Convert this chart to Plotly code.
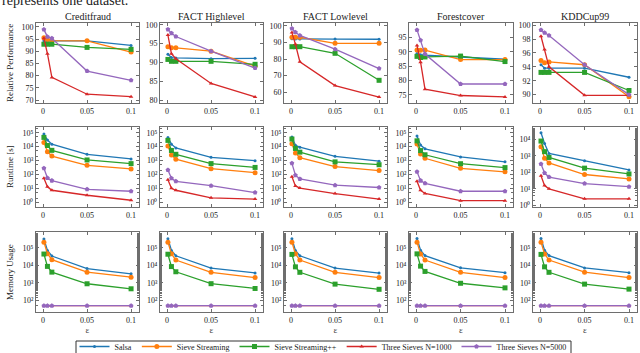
import plotly.graph_objects as go
from plotly.subplots import make_subplots

# ---- data ----
eps = [0.001, 0.005, 0.01, 0.05, 0.1]
datasets = ["Creditfraud", "FACT Highlevel", "FACT Lowlevel", "Forestcover", "KDDCup99"]
algos = ["Salsa", "Sieve Streaming", "Sieve Streaming++", "Three Sieves N=1000", "Three Sieves N=5000"]
colors = ["#1f77b4", "#ff7f0e", "#2ca02c", "#d62728", "#9467bd"]
symbols = ["circle", "circle", "square", "triangle-up", "pentagon"]
msizes = [3, 5, 5, 4, 5]

# relative performance, one row per algorithm (same order as algos)
perf_creditfraud = [[94.3, 94.3, 94.3, 94.3, 92.4],
                    [95.6, 94.8, 94.4, 94.3, 89.7],
                    [92.9, 92.9, 92.9, 91.6, 90.8],
                    [95.3, 89.0, 79.3, 72.4, 71.4],
                    [98.9, 96.0, 95.3, 81.9, 78.1]]
perf_fact_high = [[92.2, 91.3, 91.2, 91.0, 91.1],
                  [94.2, 93.9, 93.9, 93.0, 89.0],
                  [90.8, 90.3, 90.3, 90.3, 89.5],
                  [97.3, 92.3, 91.0, 84.4, 80.8],
                  [98.8, 97.8, 96.9, 93.0, 88.5]]
perf_fact_low = [[92.3, 92.2, 92.2, 92.1, 92.0],
                 [93.2, 93.2, 93.2, 89.5, 89.5],
                 [87.5, 87.5, 87.5, 83.5, 67.2],
                 [96.0, 88.9, 78.4, 64.0, 57.1],
                 [98.5, 96.2, 94.3, 86.0, 74.3]]
perf_forest = [[89.4, 89.0, 88.8, 88.2, 87.4],
               [90.6, 90.5, 90.6, 87.3, 87.3],
               [88.4, 88.0, 88.2, 88.5, 86.6],
               [92.2, 86.4, 77.0, 74.8, 74.3],
               [97.6, 94.0, 89.2, 78.8, 78.8]]
perf_kdd = [[94.3, 93.8, 93.8, 93.8, 92.5],
            [94.9, 94.6, 94.7, 94.3, 89.7],
            [93.2, 93.2, 93.2, 93.2, 90.6],
            [98.4, 96.5, 94.0, 89.9, 89.9],
            [99.3, 98.9, 98.5, 94.3, 90.0]]

# runtime [s]
rt_creditfraud = [[8e4, 3e4, 1.5e4, 2.8e3, 1.3e3],
                  [2e4, 4.3e3, 2.1e3, 450, 250],
                  [4.6e4, 1.2e4, 5.4e3, 1.1e3, 600],
                  [53, 13, 7.3, 3.2, 1.4],
                  [275, 56, 36, 8.5, 6.2]]
rt_fact_high = [[4.5e4, 1.5e4, 8e3, 1.7e3, 970],
                [1.1e4, 2.5e3, 1.25e3, 260, 133],
                [2.8e4, 5.3e3, 2.8e3, 600, 320],
                [41, 10, 7.3, 2.1, 1.7],
                [210, 53, 32, 15.6, 5]]
rt_fact_low = [[5e4, 1.26e4, 9.1e3, 2e3, 900],
               [1.6e4, 3.5e3, 1.6e3, 370, 190],
               [3.5e4, 7.4e3, 4e3, 800, 500],
               [69, 15, 10.5, 4.2, 1.7],
               [630, 89, 48, 17, 11.5]]
rt_forest = [[5.9e4, 1.3e4, 6.9e3, 1.8e3, 810],
             [1.55e4, 2.95e3, 1.45e3, 275, 155],
             [2.6e4, 5.2e3, 2.6e3, 590, 310],
             [32, 7.2, 4.3, 1.3, 1.3],
             [155, 36, 23, 6.2, 6.2]]
rt_kdd = [[2.5e4, 5.6e3, 1.4e3, 500, 140],
          [3.6e3, 710, 370, 74, 40],
          [7.9e3, 1.8e3, 800, 180, 80],
          [63, 16, 10, 2.5, 2.5],
          [320, 91, 52, 21, 13.5]]

# memory usage
mem_creditfraud = [[3.2e5, 7e4, 3.4e4, 6.5e3, 3.3e3],
                   [2.1e5, 4.6e4, 2.1e4, 4.1e3, 2.1e3],
                   [4.4e4, 8.7e3, 4.1e3, 890, 460],
                   [50, 50, 50, 50, 50],
                   [50, 50, 50, 50, 50]]
mem_fact_high = [[3.3e5, 7e4, 3.5e4, 7e3, 3.7e3],
                 [2.1e5, 4.5e4, 2.0e4, 4.0e3, 2.0e3],
                 [4.3e4, 8.5e3, 4.3e3, 900, 480],
                 [50, 50, 50, 50, 50],
                 [50, 50, 50, 50, 50]]
mem_fact_low = [[3.3e5, 7e4, 3.5e4, 7e3, 3.6e3],
                [2.1e5, 4.5e4, 2.0e4, 4.0e3, 2.0e3],
                [4.2e4, 8.2e3, 4.0e3, 850, 430],
                [50, 50, 50, 50, 50],
                [50, 50, 50, 50, 50]]
mem_forest = [[3.4e5, 7.2e4, 3.6e4, 7.2e3, 3.8e3],
              [2.1e5, 4.4e4, 2.0e4, 4.0e3, 2.0e3],
              [4.5e4, 9e3, 4.5e3, 950, 520],
              [50, 50, 50, 50, 50],
              [50, 50, 50, 50, 50]]
mem_kdd = [[3.4e5, 7.2e4, 3.6e4, 7.1e3, 3.8e3],
           [2.1e5, 4.4e4, 2.0e4, 4.1e3, 2.0e3],
           [4.2e4, 8.2e3, 4.0e3, 850, 440],
           [50, 50, 50, 50, 50],
           [50, 50, 50, 50, 50]]

perf = [perf_creditfraud, perf_fact_high, perf_fact_low, perf_forest, perf_kdd]
runtime = [rt_creditfraud, rt_fact_high, rt_fact_low, rt_forest, rt_kdd]
memory = [mem_creditfraud, mem_fact_high, mem_fact_low, mem_forest, mem_kdd]

perf_ranges = [[68.8, 101.6], [79.2, 100.5], [53.5, 101.8], [72.2, 100], [88.8, 100.3]]
perf_ticks = [[70, 75, 80, 85, 90, 95, 100], [80, 85, 90, 95, 100], [60, 70, 80, 90, 100],
              [75, 80, 85, 90, 95], [90, 92, 94, 96, 98, 100]]
row_labels = ["Relative Performance", "Runtime [s]", "Memory Usage"]

# ---- layout geometry (pixels of the 640x353 page) ----
W, H = 640, 353
col_px = [(36, 139), (160, 263), (284, 387), (409, 513), (533, 637)]
row_px = [(23, 103), (127, 207), (232, 312)]

FONT = "Liberation Serif"
AX = "#6e6e6e"

fig = make_subplots(rows=3, cols=5)

for c in range(5):
    for r, block in enumerate([perf, runtime, memory]):
        for a in range(5):
            fig.add_trace(go.Scatter(
                x=eps, y=block[c][a], mode="lines+markers",
                name=algos[a], legendgroup=algos[a],
                showlegend=(r == 0 and c == 0),
                line=dict(color=colors[a], width=1.3),
                marker=dict(symbol=symbols[a], size=msizes[a], color=colors[a]),
            ), row=r + 1, col=c + 1)

sup = {0: "⁰", 1: "¹", 2: "²", 3: "³", 4: "⁴", 5: "⁵"}
for r in range(3):
    for c in range(5):
        n = r * 5 + c + 1
        xa = "xaxis" if n == 1 else f"xaxis{n}"
        ya = "yaxis" if n == 1 else f"yaxis{n}"
        x0, x1 = col_px[c]
        y0, y1 = row_px[r]
        common = dict(showline=True, linecolor=AX, linewidth=1, mirror="ticks",
                      ticks="inside", ticklen=3, tickcolor=AX, showgrid=False,
                      zeroline=False, automargin=False,
                      tickfont=dict(family=FONT, size=8, color="#222"))
        fig.layout[xa].update(domain=[x0 / W, x1 / W], range=[-0.008, 0.109],
                              tickvals=[0, 0.05, 0.1], ticktext=["0", "0.05", "0.1"], **common)
        fig.layout[ya].update(domain=[1 - y1 / H, 1 - y0 / H], **common)
        if r == 0:
            fig.layout[ya].update(range=perf_ranges[c], tickvals=perf_ticks[c])
        elif r == 1:
            exps = [0, 1, 2, 3, 4] if c == 4 else [0, 1, 2, 3, 4, 5]
            rng = [-0.1, 4.75] if c == 4 else [-0.34, 5.41]
            fig.layout[ya].update(type="log", range=rng,
                                  tickvals=[10 ** e for e in exps],
                                  ticktext=["10" + sup[e] for e in exps],
                                  minor=dict(ticks="inside", ticklen=2, tickcolor=AX))
        else:
            exps = [2, 3, 4, 5]
            fig.layout[ya].update(type="log", range=[1.34, 5.9],
                                  tickvals=[10 ** e for e in exps],
                                  ticktext=["10" + sup[e] for e in exps],
                                  minor=dict(ticks="inside", ticklen=2, tickcolor=AX))
            fig.layout[xa].update(title=dict(text="ε", font=dict(family=FONT, size=9, color="#444"),
                                             standoff=2))

annotations = []
for c, name in enumerate(datasets):
    x0, x1 = col_px[c]
    annotations.append(dict(text=name, x=(x0 + x1) / 2 / W, y=1 - 17 / H, xref="paper", yref="paper",
                            xanchor="center", yanchor="middle", showarrow=False,
                            font=dict(family=FONT, size=10, color="#222")))
for r, lab in enumerate(row_labels):
    y0, y1 = row_px[r]
    annotations.append(dict(text=lab, x=10 / W, y=1 - (y0 + y1) / 2 / H, xref="paper", yref="paper",
                            xanchor="center", yanchor="middle", textangle=-90, showarrow=False,
                            font=dict(family=FONT, size=9, color="#222")))
annotations.append(dict(text="represents one dataset.", x=0, y=1 - 0 / H, xref="paper", yref="paper",
                        xanchor="left", yanchor="middle", showarrow=False,
                        font=dict(family=FONT, size=14, color="#222")))

# legend frame, drawn separately so its top edge can sit where the reference has it
legend_box = dict(type="rect", xref="paper", yref="paper", x0=76 / W, x1=571 / W,
                  y0=-0.02, y1=1 - 341 / H, line=dict(color="#333", width=1))

fig.update_layout(
    width=W, height=H,
    margin=dict(l=0, r=0, t=0, b=0, autoexpand=False),
    paper_bgcolor="white", plot_bgcolor="white",
    annotations=annotations,
    shapes=[legend_box],
    showlegend=True,
    legend=dict(orientation="h", x=323 / W, xanchor="center", y=1 - 332 / H, yanchor="top",
                bgcolor="rgba(0,0,0,0)", borderwidth=0,
                font=dict(family=FONT, size=8, color="#222"),
                itemwidth=30, tracegroupgap=0),
)

# page body has a default 8px margin; drop it so the figure sits at the window corner
fig.write_html("out.html", config={"displayModeBar": False},
               post_script="document.body.style.margin='0';")
